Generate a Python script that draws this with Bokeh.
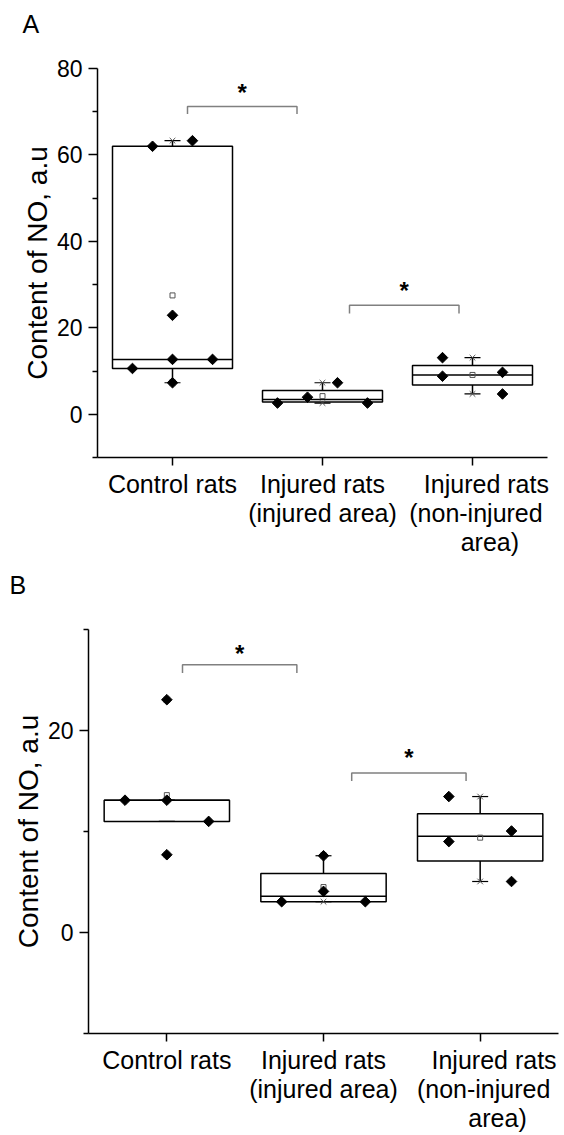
import math
from bokeh.plotting import figure
from bokeh.layouts import column, row
from bokeh.models import FixedTicker, Range1d
from bokeh.core.properties import value
from bokeh.embed import file_html
from bokeh.resources import INLINE

FONT = "Liberation Sans"
NB = "\u00a0"

categories = ["Control rats",
              "Injured rats\n(injured area)",
              NB * 4 + "Injured rats\n" + NB + "(non-injured\n" + NB * 5 + "area)"]
cat_pos = [1, 2, 3]

# ---------------- Panel A data ----------------
A_values = [
    [10.6, 62.0, 22.9, 12.7, 7.3, 63.3, 12.7],
    [2.6, 3.95, 7.3, 2.6],
    [13.1, 8.8, 9.7, 4.7],
]
A_offsets = [
    [-0.267, -0.133, 0, 0, 0, 0.133, 0.267],
    [-0.3, -0.1, 0.1, 0.3],
    [-0.2, -0.2, 0.2, 0.2],
]
A_q1 = [10.6, 2.86, 6.8]
A_median = [12.7, 3.4, 9.1]
A_q3 = [62.0, 5.5, 11.3]
A_whisk_lo = [7.3, 2.6, 4.7]
A_whisk_hi = [63.3, 7.3, 13.1]
A_min = [7.3, 2.6, 4.7]
A_max = [63.3, 7.3, 13.1]
A_mean = [27.5, 4.2, 9.1]
A_brk_x0 = [1.10, 2.18]
A_brk_x1 = [1.83, 2.91]
A_brk_y = [71.2, 25.2]
A_brk_drop = [1.7, 1.9]
A_star_y = [75.7, 29.8]

# ---------------- Panel B data ----------------
B_values = [
    [13.1, 13.1, 23.05, 7.7, 11.0],
    [3.05, 4.07, 7.6, 3.05],
    [13.46, 9.0, 10.05, 5.05],
]
B_offsets = [
    [-0.267, 0, 0, 0, 0.267],
    [-0.267, 0, 0, 0.267],
    [-0.2, -0.2, 0.2, 0.2],
]
B_q1 = [11.0, 3.05, 7.09]
B_median = [13.1, 3.58, 9.52]
B_q3 = [13.1, 5.84, 11.75]
B_whisk_lo = [11.0, 3.05, 5.05]
B_whisk_hi = [13.1, 7.6, 13.46]
B_min = [7.7, 3.05, 5.05]
B_max = [23.05, 7.6, 13.46]
B_mean = [13.6, 4.5, 9.39]
B_brk_x0 = [1.10, 2.18]
B_brk_x1 = [1.83, 2.91]
B_brk_y = [26.5, 15.8]
B_brk_drop = [0.8, 0.8]
B_star_y = [28.1, 17.8]


def make_panel(letter, values, offsets, q1, med, q3, wlo, whi, vmin, vmax, mean,
               bx0, bx1, by, bdrop, stary, yr, major, minor,
               h, bl, br, bt, bb, letter_off, letter_standoff):
    p = figure(width=564, height=h, output_backend="svg", toolbar_location=None,
               x_range=Range1d(0.5, 3.5), y_range=Range1d(*yr),
               min_border_left=bl, min_border_right=br, min_border_top=bt, min_border_bottom=bb)
    p.outline_line_color = None
    p.grid.visible = False
    p.background_fill_color = "white"
    p.border_fill_color = "white"

    # panel letter (second, blank line lifts it away from the frame)
    p.title.text = letter + "\n" + NB
    p.title.text_font = FONT
    p.title.text_font_size = "25px"
    p.title.text_font_style = "normal"
    p.title.text_color = "black"
    p.title.align = "left"
    p.title.offset = letter_off
    p.title.standoff = letter_standoff

    half = 0.4
    lefts = [c - half for c in cat_pos]
    rights = [c + half for c in cat_pos]

    # significance brackets
    xs = [[a, a, b, b] for a, b in zip(bx0, bx1)]
    ys = [[y - d, y, y, y - d] for y, d in zip(by, bdrop)]
    p.multi_line(xs=xs, ys=ys, line_color="#808080", line_width=1.5)
    p.text(x=[(a + b) / 2 for a, b in zip(bx0, bx1)], y=stary, text=["*"] * len(stary),
           text_align="center", text_baseline="middle", text_font=value(FONT),
           text_font_size="24px", text_font_style="bold", text_color="black", y_offset=5)

    # whiskers
    p.segment(x0=cat_pos, y0=q3, x1=cat_pos, y1=whi, line_color="black", line_width=1.5)
    p.segment(x0=cat_pos, y0=q1, x1=cat_pos, y1=wlo, line_color="black", line_width=1.5)
    # boxes
    p.quad(left=lefts, right=rights, bottom=q1, top=q3, fill_color="white",
           line_color="black", line_width=1.5)
    p.segment(x0=lefts, y0=med, x1=rights, y1=med, line_color="black", line_width=1.5)
    # caps
    p.scatter(x=cat_pos + cat_pos, y=list(whi) + list(wlo), marker="dash", size=16,
              line_color="black", line_width=1.2)
    # min / max markers
    p.scatter(x=cat_pos + cat_pos, y=list(vmin) + list(vmax), marker="x", size=8,
              line_color="#555555", line_width=1)
    # mean
    p.scatter(x=cat_pos, y=mean, marker="square", size=5, fill_color=None,
              line_color="#555555", line_width=1)
    # data points
    px, py = [], []
    for c, vals, offs in zip(cat_pos, values, offsets):
        for v, o in zip(vals, offs):
            px.append(c + o)
            py.append(v)
    p.scatter(x=px, y=py, marker="square", angle=math.pi / 4, size=7.5,
              fill_color="black", line_color="black")

    # axes
    for ax in (p.xaxis[0], p.yaxis[0]):
        ax.axis_line_width = 1.5
        ax.axis_line_color = "black"
        ax.major_tick_line_width = 1.5
        ax.minor_tick_line_width = 1.5
        ax.major_tick_in = 0
        ax.minor_tick_in = 0
        ax.major_label_text_font = FONT
        ax.major_label_text_color = "black"
        ax.axis_label_text_font = FONT
        ax.axis_label_text_color = "black"
        ax.axis_label_text_font_style = "normal"
    p.xaxis.ticker = FixedTicker(ticks=cat_pos, minor_ticks=[])
    p.xaxis.major_label_overrides = {c: lab for c, lab in zip(cat_pos, categories)}
    p.xaxis.major_tick_out = 8
    p.xaxis.major_label_text_font_size = "25px"
    p.xaxis.major_label_text_line_height = 1.05
    p.xaxis.major_label_standoff = 4

    p.yaxis.ticker = FixedTicker(ticks=major, minor_ticks=minor)
    p.yaxis.major_tick_out = 9
    p.yaxis.minor_tick_out = 5
    p.yaxis.major_label_text_font_size = "23px"
    p.yaxis.major_label_standoff = 6
    p.yaxis.axis_label = "Content of NO, a.u"
    p.yaxis.axis_label_text_font_size = "28px"
    p.yaxis.axis_label_standoff = 1
    return p


pA = make_panel("A", A_values, A_offsets, A_q1, A_median, A_q3, A_whisk_lo, A_whisk_hi,
                A_min, A_max, A_mean, A_brk_x0, A_brk_x1, A_brk_y, A_brk_drop, A_star_y,
                (-10, 80), [0, 20, 40, 60, 80], [-10, 10, 30, 50, 70],
                560, 97, 17, 68, 103, -75, 6)
pB = make_panel("B", B_values, B_offsets, B_q1, B_median, B_q3, B_whisk_lo, B_whisk_hi,
                B_min, B_max, B_mean, B_brk_x0, B_brk_x1, B_brk_y, B_brk_drop, B_star_y,
                (-10, 30), [0, 20], [-10, 10, 30],
                575, 88, 6, 69, 100, -79, 6)

layout = column(row(pA), row(pB), spacing=0)
open("out.html", "w").write(file_html(layout, INLINE))
